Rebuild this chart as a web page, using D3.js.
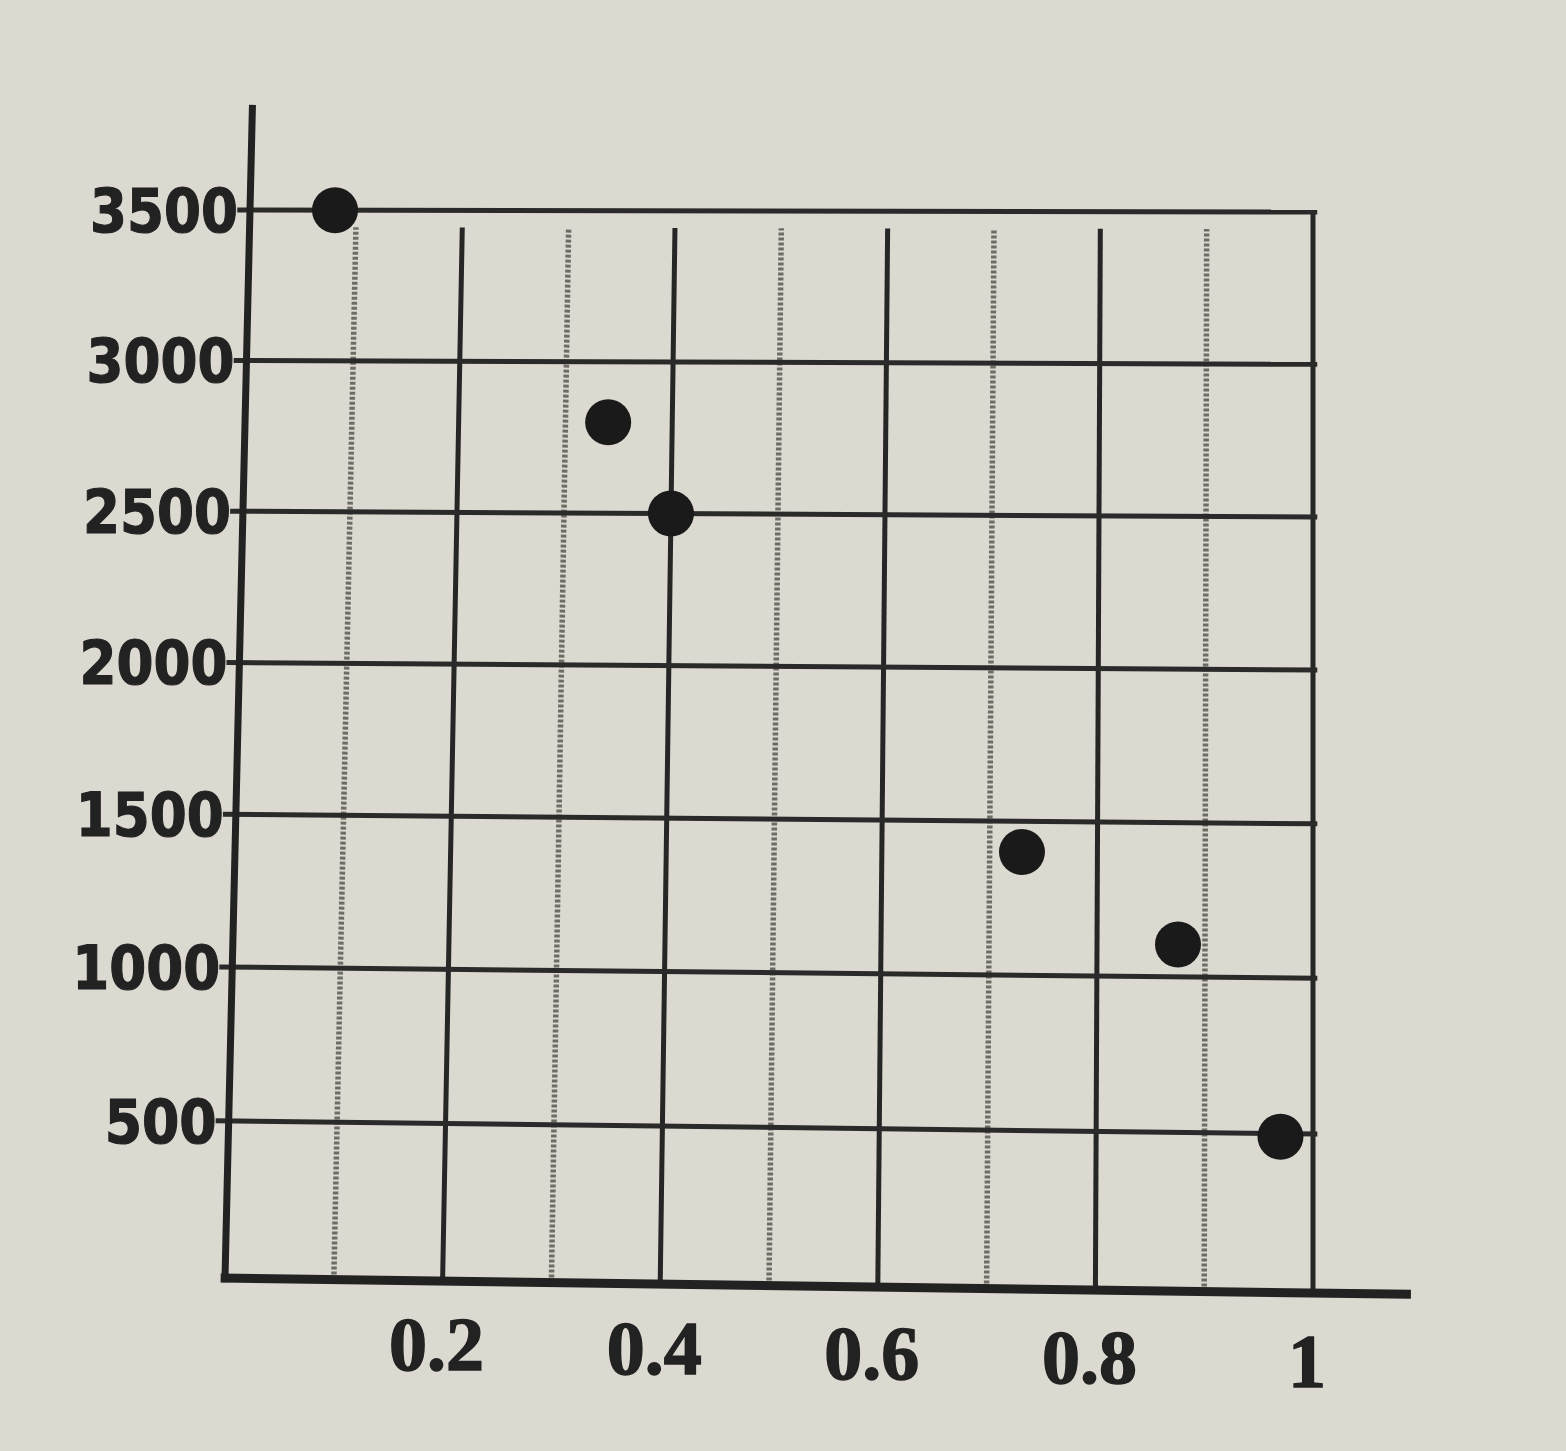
<!DOCTYPE html>
<html>
<head>
<meta charset="utf-8">
<script src="https://cdn.jsdelivr.net/npm/d3@7"></script>
<style>
  html, body { margin: 0; padding: 0; background: #dcd9d0; }
  svg { display: block; }
</style>
</head>
<body>
<script>
// ---- data ----
const xValues = [0.08, 0.34, 0.40, 0.73, 0.875, 0.97];
const yValues = [3500, 2800, 2500, 1400, 1105, 490];
const xTicks = [0.2, 0.4, 0.6, 0.8, 1];
const xTickLabels = ["0.2", "0.4", "0.6", "0.8", "1"];
const yTicks = [500, 1000, 1500, 2000, 2500, 3000, 3500];
const yTickLabels = ["500", "1000", "1500", "2000", "2500", "3000", "3500"];
const xGrid = [0.1, 0.2, 0.3, 0.4, 0.5, 0.6, 0.7, 0.8, 0.9, 1.0];

const W = 1566, H = 1451;

// the printed page was photographed slightly askew: plot corners on screen
const corners = {
  bl: [225, 1278], br: [1313, 1293],
  tl: [250, 210],  tr: [1313, 212]
};

const svg = d3.select("body").append("svg")
  .attr("width", W).attr("height", H);
svg.append("rect").attr("width", W).attr("height", H).attr("fill", "#dcd9d0");

// data -> unit square
const x = d3.scaleLinear().domain([0, 1]).range([0, 1]);
const y = d3.scalePow().exponent(0.985).domain([0, 3500]).range([0, 1]);

// unit square -> page (bilinear, mimicking the photo's perspective)
function P(u, v) {
  const lx = corners.bl[0] + (corners.tl[0] - corners.bl[0]) * v;
  const ly = corners.bl[1] + (corners.tl[1] - corners.bl[1]) * v;
  const rx = corners.br[0] + (corners.tr[0] - corners.br[0]) * v;
  const ry = corners.br[1] + (corners.tr[1] - corners.br[1]) * v;
  return [lx + (rx - lx) * u, ly + (ry - ly) * u];
}
const pt = (dx, dy) => P(x(dx), y(dy));

const ink = "#222";

function seg(p1, p2) {
  return svg.append("line")
    .attr("x1", p1[0]).attr("y1", p1[1])
    .attr("x2", p2[0]).attr("y2", p2[1]);
}

// vertical grid lines
xGrid.forEach((d, i) => {
  const top = d === 1 ? y(3500) : y(3500) - 0.016;
  const l = seg(P(x(d), 0), P(x(d), top));
  if (i % 2 === 0) {
    l.attr("stroke", "#6e6c66").attr("stroke-width", 5.5).attr("stroke-dasharray", "3 2");
  } else {
    l.attr("stroke", "#262626").attr("stroke-width", 5);
  }
});

// horizontal grid lines
yTicks.forEach(d => {
  seg(P(-0.012, y(d)), P(x(1) + 0.004, y(d)))
    .attr("stroke", "#2a2a2a").attr("stroke-width", 5);
});

// axes
seg(P(-0.004, 0), P(x(1.09), 0)).attr("stroke", ink).attr("stroke-width", 9);
seg(P(0, -0.004), P(0, y(3850))).attr("stroke", ink).attr("stroke-width", 7);

// y tick labels
svg.selectAll(".ylab").data(yTicks).join("text")
  .attr("x", d => P(0, y(d))[0] - 12)
  .attr("y", d => P(0, y(d))[1])
  .attr("dy", "0.36em")
  .attr("text-anchor", "end")
  .attr("font-family", "'DejaVu Sans', sans-serif")
  .attr("font-weight", "bold")
  .attr("font-size", 60)
  .attr("fill", "#222")
  .attr("stroke", "#222").attr("stroke-width", 1.2)
  .attr("textLength", (d, i) => yTickLabels[i].length === 4 ? 148 : 112)
  .attr("lengthAdjust", "spacingAndGlyphs")
  .text((d, i) => yTickLabels[i]);

// x tick labels
svg.selectAll(".xlab").data(xTicks).join("text")
  .attr("x", d => P(x(d), 0)[0] - 6)
  .attr("y", d => P(x(d), 0)[1] + 88 + 6 * d)
  .attr("text-anchor", "middle")
  .attr("font-family", "'Liberation Serif', serif")
  .attr("font-weight", "bold")
  .attr("font-size", 76)
  .attr("fill", "#222")
  .attr("stroke", "#222").attr("stroke-width", 1.5)
  .text((d, i) => xTickLabels[i]);

// points
svg.selectAll(".pt").data(xValues).join("circle")
  .attr("cx", (d, i) => pt(d, yValues[i])[0])
  .attr("cy", (d, i) => pt(d, yValues[i])[1])
  .attr("r", 23)
  .attr("fill", "#1a1a1a");
</script>
</body>
</html>
